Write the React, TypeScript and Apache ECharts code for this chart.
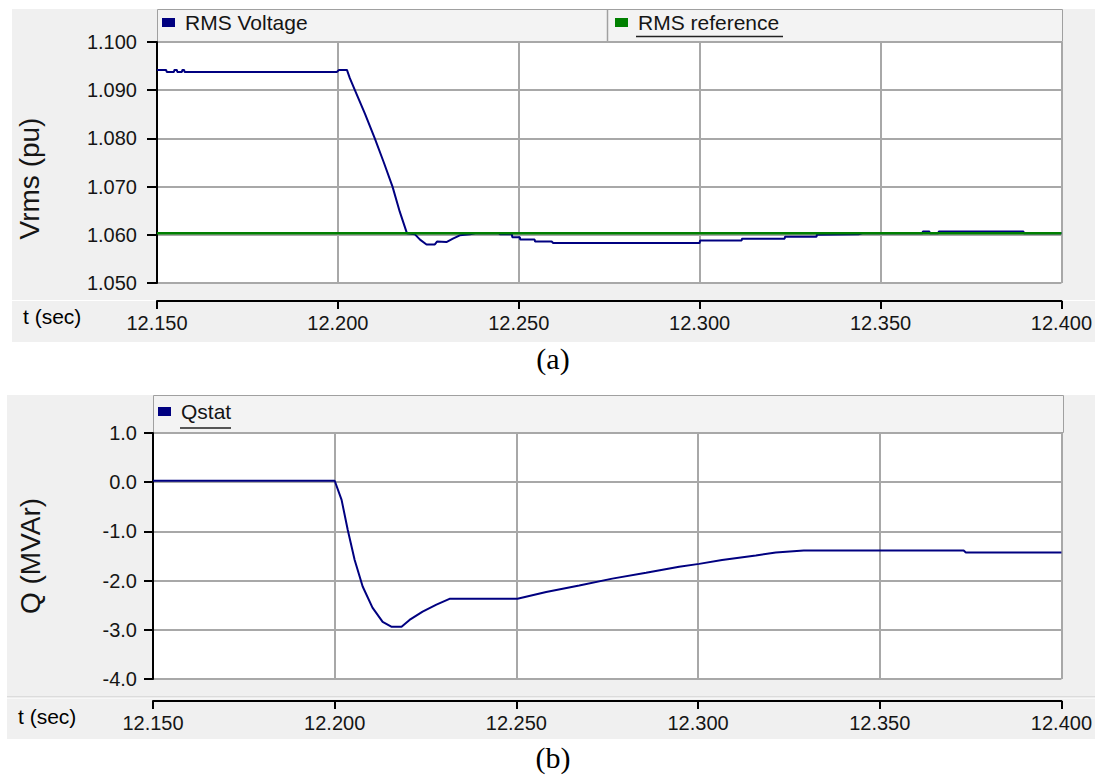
import React, { useEffect, useRef } from "react";
import * as echarts from "echarts";

// ---------- data ----------
const vTime = [
  12.15, 12.1525, 12.1527, 12.1547, 12.1548, 12.1555, 12.1556, 12.1569, 12.157, 12.1575, 12.1576,
  12.1997, 12.2003, 12.2025,
  12.2033, 12.2047, 12.2075, 12.2102, 12.2127, 12.2151, 12.2171, 12.2191,
  12.2213, 12.2227, 12.2245, 12.2268, 12.2274, 12.23, 12.2318, 12.2337, 12.2365, 12.238, 12.2445,
  12.2448, 12.2481, 12.2482, 12.2503, 12.2504, 12.2544,
  12.2545, 12.2591, 12.2595, 12.3, 12.3001, 12.3116, 12.3117, 12.3235, 12.3236, 12.3323, 12.3324,
  12.3439, 12.345, 12.3616, 12.3617, 12.3635, 12.3636, 12.366, 12.3661, 12.3895, 12.3896, 12.4,
];
const vValue = [
  1.0942, 1.0942, 1.0938, 1.0938, 1.0942, 1.0942, 1.0938, 1.0938, 1.0942, 1.0942, 1.0938,
  1.0938, 1.0942, 1.0942,
  1.0925, 1.09, 1.0851, 1.08, 1.075, 1.07, 1.0648, 1.0603,
  1.0601, 1.059, 1.058, 1.058, 1.0586, 1.0585, 1.0592, 1.0599, 1.0601, 1.0603, 1.0603,
  1.0601, 1.0601, 1.0595, 1.0595, 1.059, 1.059,
  1.0586, 1.0586, 1.0583, 1.0583, 1.0588, 1.0588, 1.0592, 1.0592, 1.0596, 1.0596, 1.06,
  1.0601, 1.0603, 1.0603, 1.0607, 1.0607, 1.0603, 1.0603, 1.0607, 1.0607, 1.0603, 1.0603,
];
const refTime = [12.15, 12.4];
const refValue = [1.0603, 1.0603];

const qTime = [
  12.15, 12.2, 12.2019, 12.2036, 12.2055, 12.2077, 12.2104, 12.2132, 12.2157, 12.2184, 12.2206,
  12.2242, 12.228, 12.2316, 12.2503, 12.2582, 12.2673, 12.2764, 12.2857, 12.2948, 12.3003, 12.3066,
  12.3159, 12.3214, 12.3291, 12.3731, 12.3737, 12.4,
];
const qValue = [
  0.03, 0.03, -0.36, -0.97, -1.58, -2.12, -2.55, -2.84, -2.94, -2.94, -2.8,
  -2.63, -2.49, -2.37, -2.37, -2.23, -2.1, -1.96, -1.84, -1.72, -1.66, -1.58,
  -1.49, -1.43, -1.39, -1.39, -1.43, -1.43,
];

const seriesNames = ["RMS Voltage", "RMS reference", "Qstat"];
const captions = ["(a)", "(b)"];
const xName = "t (sec)";
const yNames = ["Vrms (pu)", "Q (MVAr)"];

// ---------- styles ----------
const FONT = 'Arial, "Liberation Sans", sans-serif';
const SERIF = '"Times New Roman", "Liberation Serif", serif';
const TXT = "#151515";
const GRID = "#a8a8a8";
const PANEL = "#f0f0f0";
const NAVY = "#000080";
const GREEN = "#008000";

function xAxisCfg(gridIndex: number, offset: number, margin: number) {
  return {
    type: "value",
    gridIndex,
    min: 12.15,
    max: 12.4,
    interval: 0.05,
    offset,
    axisLine: { show: true, onZero: false, lineStyle: { color: "#000", width: 2 } },
    axisTick: { show: true, inside: false, length: 8, lineStyle: { color: "#000", width: 2 } },
    axisLabel: {
      margin,
      fontSize: 20,
      color: TXT,
      fontFamily: FONT,
      formatter: (v: number) => v.toFixed(3),
    },
    splitLine: { show: true, lineStyle: { color: GRID, width: 2 } },
  };
}

function yAxisCfg(
  gridIndex: number,
  min: number,
  max: number,
  interval: number,
  digits: number,
  name: string,
  nameGap: number,
  margin: number,
  tickLen: number,
  padding: number[]
) {
  return {
    type: "value",
    gridIndex,
    min,
    max,
    interval,
    axisLine: { show: true, onZero: false, lineStyle: { color: "#000", width: 2 } },
    axisTick: { show: true, length: tickLen, lineStyle: { color: "#000", width: 2 } },
    axisLabel: {
      margin,
      fontSize: 20,
      color: TXT,
      fontFamily: FONT,
      formatter: (v: number) => v.toFixed(digits),
    },
    splitLine: { show: true, lineStyle: { color: GRID, width: 2 } },
    name,
    nameLocation: "middle",
    nameRotate: 90,
    nameGap,
    nameTextStyle: { fontSize: 28, fontFamily: FONT, color: TXT, padding },
  };
}

function legendCfg(name: string, left: number, top: number) {
  return {
    data: [name],
    left,
    top,
    padding: 0,
    itemWidth: 13,
    itemHeight: 9,
    icon: "rect",
    selectedMode: false,
    textStyle: { fontSize: 21, fontFamily: FONT, color: TXT, padding: [0, 0, 0, 5] },
  };
}

function rect(x: number, y: number, w: number, h: number, fill: string, z: number, stroke?: string) {
  return {
    type: "rect",
    z,
    silent: true,
    shape: { x, y, width: w, height: h },
    style: stroke ? { fill, stroke, lineWidth: 1 } : { fill },
  };
}

function hline(x1: number, x2: number, y: number, color: string, w: number, z: number) {
  return {
    type: "line",
    z,
    silent: true,
    shape: { x1, y1: y, x2, y2: y },
    style: { stroke: color, lineWidth: w },
  };
}

function vline(x: number, y1: number, y2: number, color: string, w: number, z: number) {
  return {
    type: "line",
    z,
    silent: true,
    shape: { x1: x, y1, x2: x, y2 },
    style: { stroke: color, lineWidth: w },
  };
}

function text(str: string, x: number, y: number, size: number, family: string, align: string) {
  return {
    type: "text",
    z: 10,
    silent: true,
    x,
    y,
    style: {
      text: str,
      fontSize: size,
      fontFamily: family,
      fill: "#000",
      align,
      verticalAlign: "middle",
      textAlign: align,
      textVerticalAlign: "middle",
    },
  };
}

export default function App() {
  const ref = useRef<HTMLDivElement>(null);

  useEffect(() => {
    if (!ref.current) return;
    const chart = echarts.init(ref.current, undefined, { renderer: "svg" });

    const option = {
      animation: false,
      backgroundColor: "#ffffff",
      grid: [
        { left: 157, top: 42, width: 905, height: 241 },
        { left: 153, top: 433, width: 910, height: 246 },
      ],
      xAxis: [xAxisCfg(0, 18, 12), xAxisCfg(1, 22, 12)],
      yAxis: [
        yAxisCfg(0, 1.05, 1.1, 0.01, 3, yNames[0], 114, 20, 10, [0, 32, 0, 0]),
        yAxisCfg(1, -4, 1, 1, 1, yNames[1], 109, 16, 9, [0, 0, 0, 0]),
      ],
      legend: [
        legendCfg(seriesNames[0], 162, 12),
        legendCfg(seriesNames[1], 615, 12),
        legendCfg(seriesNames[2], 158, 401),
      ],
      graphic: [
        // panels
        rect(12, 9, 1083, 333, PANEL, -30),
        rect(7, 395, 1088, 344, PANEL, -30),
        hline(12, 1095, 300.5, "#ffffff", 1, -25),
        hline(7, 1095, 697, "#c8c8c8", 1, -25),
        hline(7, 1095, 698, "#ffffff", 1, -25),
        // plot backgrounds
        rect(157, 42, 905, 241, "#ffffff", -20),
        rect(153, 433, 910, 246, "#ffffff", -20),
        // legend strips
        rect(157.5, 9.5, 905, 32, "#f3f3f3", -20, "#a0a0a0"),
        vline(607.5, 9, 42, "#a0a0a0", 1.5, -19),
        rect(153.5, 395.5, 910, 37, "#f3f3f3", -20, "#a0a0a0"),
        // underlines
        hline(636, 783, 36.5, "#222", 1.5, 10),
        hline(180, 231, 428, "#222", 1.5, 10),
        // x axis names
        text(xName, 23, 316, 21, FONT, "left"),
        text(xName, 18, 716, 21, FONT, "left"),
        // captions
        text(captions[0], 553, 358, 30, SERIF, "center"),
        text(captions[1], 553, 757, 30, SERIF, "center"),
      ],
      series: [
        {
          name: seriesNames[0],
          type: "line",
          xAxisIndex: 0,
          yAxisIndex: 0,
          data: vTime.map((t, i) => [t, vValue[i]]),
          showSymbol: false,
          symbol: "none",
          lineStyle: { color: NAVY, width: 2 },
          itemStyle: { color: NAVY },
          z: 2,
        },
        {
          name: seriesNames[1],
          type: "line",
          xAxisIndex: 0,
          yAxisIndex: 0,
          data: refTime.map((t, i) => [t, refValue[i]]),
          showSymbol: false,
          symbol: "none",
          lineStyle: { color: GREEN, width: 2.5 },
          itemStyle: { color: GREEN },
          z: 3,
        },
        {
          name: seriesNames[2],
          type: "line",
          xAxisIndex: 1,
          yAxisIndex: 1,
          data: qTime.map((t, i) => [t, qValue[i]]),
          showSymbol: false,
          symbol: "none",
          lineStyle: { color: NAVY, width: 2 },
          itemStyle: { color: NAVY },
          z: 2,
        },
      ],
    };

    chart.setOption(option as any);
    return () => chart.dispose();
  }, []);

  return (
    <div
      ref={ref}
      style={{ position: "fixed", left: 0, top: 0, width: 1095, height: 775, background: "#fff" }}
    />
  );
}
